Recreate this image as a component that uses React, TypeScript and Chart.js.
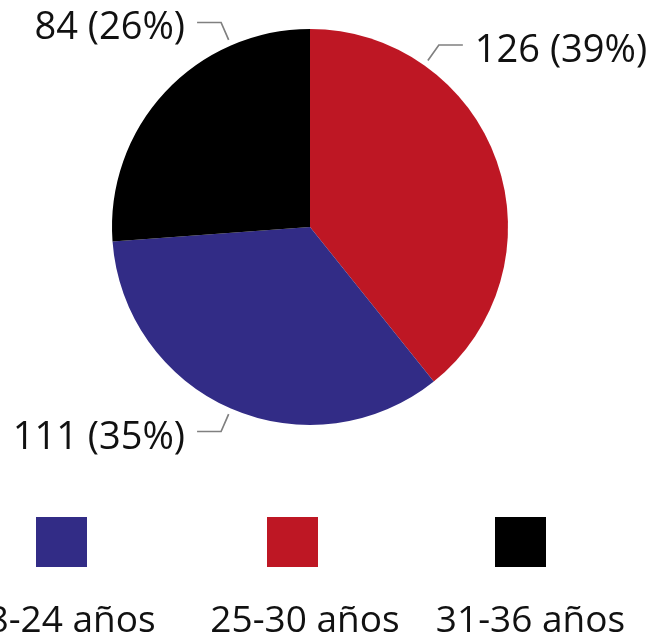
import React, { useEffect, useRef } from "react";
import { Chart, registerables } from "chart.js";

Chart.register(...registerables);

// Data (pie order, clockwise from 12 o'clock)
const categories = ["25-30 años", "18-24 años", "31-36 años"];
const values = [126, 111, 84];
const colors = ["#BE1724", "#322C86", "#000000"];
// Legend shows items in this order (indices into categories)
const legendOrder = [1, 0, 2];

// Layout / style settings
const LABEL_ANGLES = [35.3, 203.5, 336.5]; // degrees clockwise from top, per slice
const LEGEND_SQUARE_CX = [61.5, 292.5, 520.5];
const LEGEND_TEXT_CX = [61, 305, 530.5];
const LABEL_FONT = "38px 'Open Sans'";
const LEGEND_FONT = "37px 'Open Sans'";

const labelsPlugin = {
  id: "customLabels",
  afterDraw(chart: any) {
    const ctx = chart.ctx;
    const meta = chart.getDatasetMeta(0);
    const data = chart.data.datasets[0].data as number[];
    const total = data.reduce((a, b) => a + b, 0);
    ctx.save();
    ctx.font = LABEL_FONT;
    ctx.fillStyle = "#111";
    meta.data.forEach((arc: any, i: number) => {
      const cx = arc.x;
      const cy = arc.y;
      const r = arc.outerRadius;
      const th = (LABEL_ANGLES[i] * Math.PI) / 180;
      const sx = cx + (r + 6) * Math.sin(th);
      const sy = cy - (r + 6) * Math.cos(th);
      const ex = cx + (r + 25) * Math.sin(th);
      const ey = cy - (r + 25) * Math.cos(th);
      const dir = Math.sin(th) >= 0 ? 1 : -1;
      const hx = ex + dir * 24;
      ctx.beginPath();
      ctx.strokeStyle = "#808080";
      ctx.lineWidth = 1.7;
      ctx.moveTo(sx, sy);
      ctx.lineTo(ex, ey);
      ctx.lineTo(hx, ey);
      ctx.stroke();
      const pct = Math.round((data[i] / total) * 100);
      const txt = `${data[i]} (${pct}%)`;
      ctx.textBaseline = "alphabetic";
      ctx.textAlign = dir > 0 ? "left" : "right";
      ctx.fillText(txt, hx + dir * 12, ey + 17);
    });

    // Legend
    ctx.font = LEGEND_FONT;
    ctx.textAlign = "center";
    legendOrder.forEach((idx, k) => {
      ctx.fillStyle = colors[idx];
      ctx.fillRect(LEGEND_SQUARE_CX[k] - 25.5, 517, 51, 50);
      ctx.fillStyle = "#111";
      ctx.fillText(categories[idx], LEGEND_TEXT_CX[k], 632);
    });
    ctx.restore();
  },
};

export default function App() {
  const ref = useRef<HTMLCanvasElement>(null);
  useEffect(() => {
    if (!ref.current) return;
    const chart = new Chart(ref.current, {
      type: "pie",
      data: {
        labels: categories,
        datasets: [
          {
            data: values,
            backgroundColor: colors,
            borderWidth: 0,
          },
        ],
      },
      options: {
        responsive: false,
        animation: false,
        devicePixelRatio: 1,
        layout: { padding: { left: 112, right: 158, top: 29, bottom: 214 } },
        plugins: {
          legend: { display: false },
          tooltip: { enabled: false },
        },
      },
      plugins: [labelsPlugin],
    });
    return () => chart.destroy();
  }, []);
  return (
    <div style={{ position: "absolute", left: 0, top: 0, width: 666, height: 639, background: "#fff" }}>
      <canvas ref={ref} width={666} height={639} />
    </div>
  );
}
